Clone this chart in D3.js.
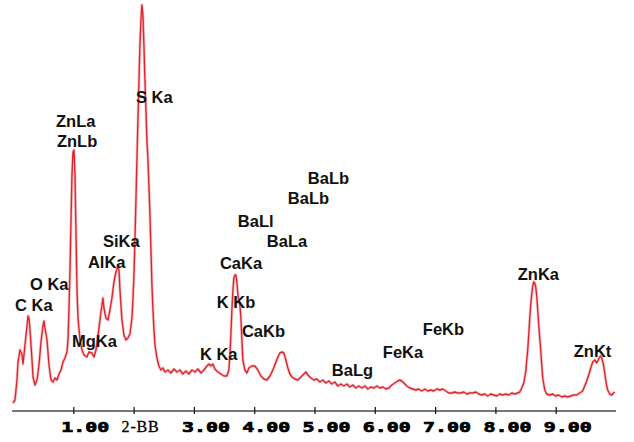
<!DOCTYPE html>
<html>
<head>
<meta charset="utf-8">
<script src="https://cdn.jsdelivr.net/npm/d3@7/dist/d3.min.js"></script>
<style>
  html, body { margin: 0; padding: 0; background: #fff; }
  svg { display: block; }
</style>
</head>
<body>
<svg id="chart" width="634" height="442"></svg>
<script>
// ---- data ----
const energy = [
  0.000,0.033,0.066,0.083,0.116,0.149,0.166,0.199,0.232,0.249,0.265,0.282,0.315,0.332,0.365,0.398,0.431,0.464,0.497,0.514,
  0.530,0.564,0.597,0.630,0.663,0.696,0.729,0.763,0.796,0.829,0.862,0.895,0.912,0.928,0.945,0.962,0.978,0.995,1.011,1.028,
  1.044,1.061,1.078,1.111,1.144,1.177,1.226,1.260,1.309,1.343,1.376,1.409,1.442,1.475,1.492,1.508,1.541,1.575,1.608,1.641,
  1.674,1.707,1.740,1.757,1.774,1.807,1.840,1.873,1.906,1.939,1.973,1.989,2.006,2.022,2.039,2.055,2.072,2.089,2.105,2.122,
  2.138,2.155,2.171,2.188,2.205,2.221,2.238,2.254,2.271,2.288,2.304,2.321,2.338,2.354,2.387,2.420,2.454,2.487,2.520,2.569,
  2.619,2.669,2.719,2.768,2.818,2.868,2.917,2.967,3.017,3.067,3.116,3.166,3.216,3.249,3.282,3.315,3.348,3.398,3.448,3.498,
  3.547,3.580,3.597,3.613,3.630,3.647,3.663,3.680,3.696,3.713,3.730,3.746,3.763,3.779,3.796,3.812,3.845,3.879,3.912,3.962,
  4.011,4.061,4.111,4.161,4.210,4.260,4.310,4.360,4.393,4.426,4.459,4.492,4.525,4.559,4.592,4.625,4.674,4.724,4.774,4.824,
  4.857,4.890,4.940,4.989,5.039,5.089,5.138,5.188,5.238,5.288,5.338,5.387,5.437,5.487,5.537,5.586,5.636,5.686,5.736,5.785,
  5.835,5.884,5.934,5.984,6.034,6.083,6.133,6.183,6.233,6.282,6.332,6.382,6.415,6.448,6.481,6.531,6.580,6.630,6.680,6.730,
  6.779,6.829,6.879,6.928,6.978,7.028,7.078,7.127,7.177,7.227,7.277,7.326,7.376,7.426,7.475,7.525,7.575,7.625,7.674,7.724,
  7.774,7.824,7.873,7.923,7.973,8.023,8.072,8.122,8.172,8.222,8.271,8.321,8.371,8.404,8.437,8.470,8.503,8.520,8.536,8.553,
  8.570,8.586,8.603,8.619,8.636,8.653,8.669,8.686,8.702,8.719,8.735,8.752,8.769,8.785,8.818,8.851,8.901,8.951,9.000,9.050,
  9.100,9.150,9.199,9.249,9.299,9.348,9.398,9.448,9.481,9.514,9.547,9.581,9.614,9.647,9.680,9.713,9.730,9.746,9.763,9.779,
  9.796,9.813,9.829,9.846,9.863,9.896,9.929,9.962,9.979
];
const counts = [
  10,25,125,215,275,255,205,300,395,445,435,375,225,140,100,125,200,315,395,420,
  385,325,200,125,115,135,125,155,175,215,235,265,325,475,675,925,1150,1265,1275,1150,
  875,575,435,325,275,250,240,265,260,240,275,345,425,500,535,485,435,425,475,535,
  615,665,695,675,575,425,350,325,335,355,435,525,650,825,1025,1225,1425,1625,1800,1925,
  2000,1950,1800,1625,1475,1325,1225,1100,950,775,600,475,375,300,235,195,175,185,165,175,
  160,180,165,175,155,170,155,175,165,180,160,175,195,205,195,205,180,165,155,145,
  145,175,250,350,475,575,635,650,650,615,550,525,500,435,325,225,175,160,185,195,
  195,175,145,130,125,145,175,215,240,260,265,260,225,185,155,140,130,125,140,155,
  165,150,135,125,130,115,125,110,120,105,115,95,105,95,105,90,100,85,95,85,
  95,80,90,85,95,85,90,80,85,100,110,120,125,120,110,95,85,80,75,80,
  70,80,70,75,70,80,75,80,70,60,60,65,60,60,65,55,60,60,65,55,
  50,55,45,55,50,45,55,50,55,50,60,55,60,65,85,110,165,225,275,350,
  435,500,555,595,615,610,590,545,475,400,335,275,200,135,75,55,50,55,45,50,
  40,45,40,45,50,50,60,70,95,120,150,185,215,225,210,230,240,245,235,220,
  195,160,125,95,75,55,50,60,65
];

const tickValues = [1, 2, 3, 4, 5, 6, 7, 8, 9];
const tickLabels = ["1.00", "2-BB", "3.00", "4.00", "5.00", "6.00", "7.00", "8.00", "9.00"];

const peakNames  = ["C Ka","O Ka","ZnLa","ZnLb","S Ka","SiKa","AlKa","MgKa","CaKa","BaLa","BaLl","BaLb","BaLb","K Kb","CaKb","K Ka","BaLg","FeKa","FeKb","ZnKa","ZnKt"];
const peakEnergy = [0.033,0.282,0.713,0.729,2.039,1.492,1.243,0.978,3.431,4.210,3.729,4.558,4.890,3.381,3.796,3.100,5.288,6.133,6.796,8.371,9.299];
const peakCounts = [470,575,1390,1290,1510,790,685,290,680,790,890,1005,1105,485,340,225,145,235,350,625,240];

// ---- drawing ----
const svg = d3.select("#chart");
const x = d3.scaleLinear().domain([0, 10]).range([13, 616]);
const y = d3.scaleLinear().domain([0, 2000]).range([405, 5]);

// axis
const axisY = 411;
const axis = d3.axisBottom(x).tickValues(tickValues).tickSize(0).tickFormat("");
const gAxis = svg.append("g").attr("transform", `translate(0,${axisY})`).call(axis);
gAxis.select(".domain").attr("stroke", "#777").attr("stroke-width", 2)
  .attr("d", `M${x(0) - 1},0H${x(10)}`);
gAxis.selectAll(".tick").append("line")
  .attr("y1", -4).attr("y2", 3).attr("stroke", "#111").attr("stroke-width", 1.2);

// tick labels
svg.append("g").selectAll("text")
  .data(tickValues)
  .join("text")
  .attr("x", (d) => x(d) - 12)
  .attr("y", 432)
  .text((d, i) => tickLabels[i])
  .each(function (d, i) {
    const t = d3.select(this);
    if (tickLabels[i] === "2-BB") {
      t.attr("font-family", "'Liberation Serif', 'Times New Roman', serif")
        .attr("font-size", 16).attr("letter-spacing", 0.8).attr("fill", "#000")
        .attr("stroke", "#000").attr("stroke-width", 0.3);
    } else {
      t.attr("font-family", "'DejaVu Sans Mono', monospace")
        .attr("font-weight", "bold").attr("font-size", 14)
        .attr("textLength", 48).attr("lengthAdjust", "spacingAndGlyphs")
        .attr("fill", "#000").attr("stroke", "#000").attr("stroke-width", 0.7);
    }
  });

// spectrum line
const pts = energy.map((e, i) => [e, counts[i]]);
const line = d3.line().x((d) => x(d[0])).y((d) => y(d[1]));
svg.append("path").datum(pts)
  .attr("d", line).attr("fill", "none")
  .attr("stroke", "#f4a6a6").attr("stroke-width", 3).attr("stroke-linejoin", "round").attr("opacity", 0.6);
svg.append("path").datum(pts)
  .attr("d", line).attr("fill", "none")
  .attr("stroke", "#df2430").attr("stroke-width", 1.4).attr("stroke-linejoin", "round");

// peak labels
svg.append("g").selectAll("text")
  .data(peakNames)
  .join("text")
  .attr("x", (d, i) => x(peakEnergy[i]))
  .attr("y", (d, i) => y(peakCounts[i]))
  .attr("font-family", "'Liberation Sans', Arial, sans-serif")
  .attr("font-weight", "bold")
  .attr("font-size", 16.5)
  .attr("fill", "#111")
  .text((d) => d);
</script>
</body>
</html>
